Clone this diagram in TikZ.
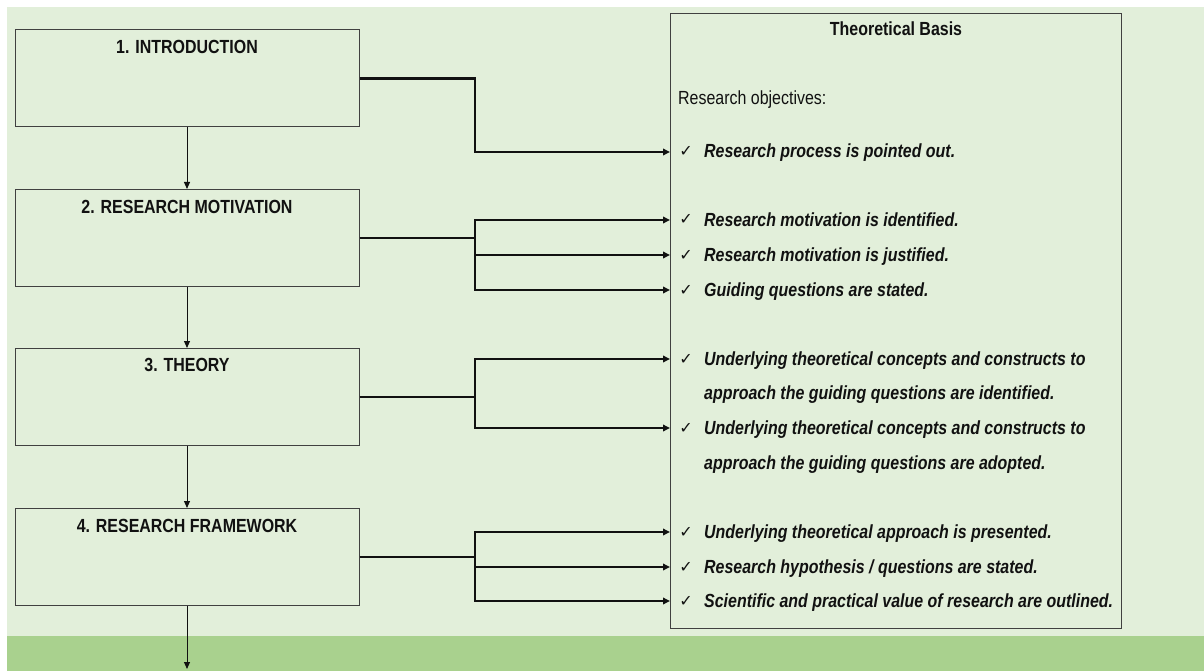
\documentclass[tikz,border=0pt]{standalone}
\usepackage{fontspec}
\setmainfont{Liberation Sans}[FakeStretch=0.84]
\newfontfamily\checkfont{DejaVu Sans}
\usetikzlibrary{arrows.meta}
\definecolor{bgA}{HTML}{E2EFDA}
\definecolor{bgB}{HTML}{A9D18E}
\definecolor{edge}{HTML}{404040}
\definecolor{ink}{HTML}{111111}
\begin{document}
\begin{tikzpicture}[x=1pt,y=-1pt,
  stagebox/.style={draw=edge, line width=1pt, minimum width=344pt, minimum height=97pt, inner sep=0pt},
  basisbox/.style={draw=edge, line width=1pt, minimum width=451pt, minimum height=614pt, inner sep=0pt},
  title/.style={anchor=base, inner sep=0pt, text=ink, font=\fontsize{19}{23}\selectfont\bfseries},
  item/.style={anchor=base west, inner sep=0pt, text=ink, font=\fontsize{19}{23}\selectfont\bfseries\itshape},
  plain/.style={anchor=base west, inner sep=0pt, text=ink, font=\fontsize{19}{23}\selectfont},
  tick/.style={anchor=base, inner sep=0pt, text=ink, font=\checkfont\fontsize{16}{18}\selectfont},
  bar/.style={line width=2.8pt, draw=ink},
  conn/.style={bar, -{Triangle[length=7pt,width=6.5pt]}},
  flow/.style={line width=1pt, draw=ink, -{Triangle[length=7pt,width=6pt]}},
]
\useasboundingbox (0,0) rectangle (1204,671);
\fill[white] (0,0) rectangle (1204,671);
\fill[bgA] (7,7) rectangle (1204,636);
\fill[bgB] (7,636) rectangle (1204,671);

% left stage boxes
\node[stagebox] (b1) at (187,78.5) {};
\node[stagebox] (b2) at (187,238) {};
\node[stagebox] (b3) at (187,397) {};
\node[stagebox] (b4) at (187,557) {};
\node[title] (t1) at (187,54) {1. INTRODUCTION};
\node[title] (t2) at (187,213) {2. RESEARCH MOTIVATION};
\node[title] (t3) at (187,371) {3. THEORY};
\node[title] (t4) at (187,532) {4. RESEARCH FRAMEWORK};

% right box
\node[basisbox] (rb) at (895.5,321) {};
\node[title] (tb) at (896,36) {Theoretical Basis};
\node[plain] (ro) at (678,105) {Research objectives:};

% ticks and items
\node[tick] (c1) at (686,157) {✓};
\node[item] (i1) at (704,158) {Research process is pointed out.};
\node[tick] (c2) at (686,225) {✓};
\node[item] (i2) at (704,226) {Research motivation is identified.};
\node[tick] (c3) at (686,260) {✓};
\node[item] (i3) at (704,261) {Research motivation is justified.};
\node[tick] (c4) at (686,295) {✓};
\node[item] (i4) at (704,296) {Guiding questions are stated.};
\node[tick] (c5) at (686,364) {✓};
\node[item] (i5) at (704,365) {Underlying theoretical concepts and constructs to};
\node[item] (i5b) at (704,399) {approach the guiding questions are identified.};
\node[tick] (c6) at (686,433) {✓};
\node[item] (i6) at (704,434) {Underlying theoretical concepts and constructs to};
\node[item] (i6b) at (704,469) {approach the guiding questions are adopted.};
\node[tick] (c7) at (686,537) {✓};
\node[item] (i7) at (704,538) {Underlying theoretical approach is presented.};
\node[tick] (c8) at (686,572) {✓};
\node[item] (i8) at (704,573) {Research hypothesis / questions are stated.};
\node[tick] (c9) at (686,606) {✓};
\node[item] (i9) at (704,607) {Scientific and practical value of research are outlined.};

% arrow end points on the basis box border
\coordinate (jx) at (475,0);
\coordinate (e1) at (670,152);
\coordinate (e2) at (670,220);
\coordinate (e3) at (670,255);
\coordinate (e4) at (670,290);
\coordinate (e5) at (670,359);
\coordinate (e6) at (670,428);
\coordinate (e7) at (670,532);
\coordinate (e8) at (670,567);
\coordinate (e9) at (670,601);
\coordinate (bot) at (187,669);

% connectors to objectives
\draw[conn] (b1.east) -- (b1.east -| jx) |- (e1);
\draw[bar] (b2.east) -- (b2.east -| jx);
\draw[conn] (b2.east -| jx) |- (e2);
\draw[conn] (b2.east -| jx) |- (e3);
\draw[conn] (b2.east -| jx) |- (e4);
\draw[bar] (b3.east) -- (b3.east -| jx);
\draw[conn] (b3.east -| jx) |- (e5);
\draw[conn] (b3.east -| jx) |- (e6);
\draw[bar] (b4.east) -- (b4.east -| jx);
\draw[conn] (b4.east -| jx) |- (e7);
\draw[conn] (b4.east -| jx) |- (e8);
\draw[conn] (b4.east -| jx) |- (e9);

% flow between stages
\draw[flow] (b1.south) -- (b2.north);
\draw[flow] (b2.south) -- (b3.north);
\draw[flow] (b3.south) -- (b4.north);
\draw[flow] (b4.south) -- (bot);
\end{tikzpicture}
\end{document}
